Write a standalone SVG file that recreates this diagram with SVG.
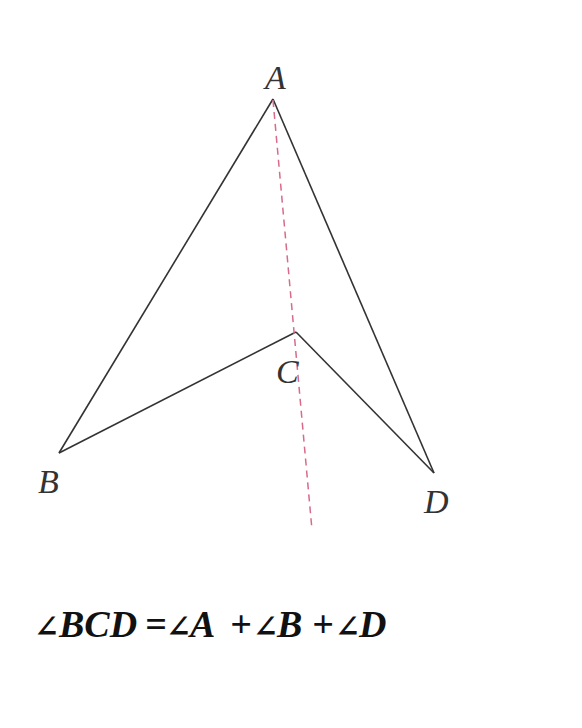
<svg xmlns="http://www.w3.org/2000/svg" width="582" height="728" viewBox="0 0 582 728">
<style>
.edge{stroke:#333;stroke-width:1.6;fill:none;stroke-linejoin:miter}
.aux{stroke:#d86a8a;stroke-width:1.5;stroke-dasharray:7 5;fill:none}
.lbl{font-family:"Liberation Serif",serif;font-style:italic;font-size:34px;fill:#333}
.eq{font-family:"Liberation Serif",serif;font-style:italic;font-weight:bold;font-size:38px;fill:#111}
.ang{font-family:"DejaVu Serif",serif;font-size:30px;font-weight:bold;font-style:italic}
</style>
<rect width="582" height="728" fill="#ffffff"/>
<g id="connectors">
<polyline class="edge" points="273,99 59,453"/>
<polyline class="edge" points="59,453 296,332"/>
<polyline class="edge" points="296,332 434,473"/>
<polyline class="edge" points="434,473 273,99"/>
<line class="aux" x1="273" y1="100" x2="312" y2="530"/>
</g>
<g id="node-A"><text class="lbl" x="265" y="89">A</text></g>
<g id="node-B"><text class="lbl" x="38" y="493">B</text></g>
<g id="node-C"><text class="lbl" x="276" y="383">C</text></g>
<g id="node-D"><text class="lbl" x="424" y="513">D</text></g>
<g id="formula">
<text class="eq" y="637"><tspan class="ang" x="34">∠</tspan><tspan x="59">BCD</tspan><tspan x="145">=</tspan><tspan class="ang" x="166">∠</tspan><tspan x="190">A</tspan><tspan x="230">+</tspan><tspan class="ang" x="253">∠</tspan><tspan x="277">B</tspan><tspan x="312">+</tspan><tspan class="ang" x="335">∠</tspan><tspan x="359">D</tspan></text>
</g>
</svg>
